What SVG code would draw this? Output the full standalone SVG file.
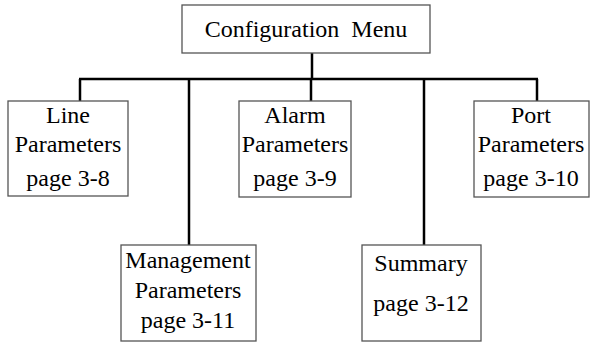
<svg xmlns="http://www.w3.org/2000/svg" width="591" height="344" viewBox="0 0 591 344">
<style>
.box{fill:#fff;stroke:#555;stroke-width:1.3}
.conn{stroke:#000;stroke-width:2.5;fill:none}
text{font-family:"Liberation Serif","Times New Roman",serif;font-size:24px;fill:#000;text-anchor:middle}
</style>
<rect width="591" height="344" fill="#fff"/>
<g id="connectors">
<line class="conn" x1="312" y1="53" x2="312" y2="79"/>
<line class="conn" x1="79" y1="79" x2="538" y2="79"/>
<line class="conn" x1="80" y1="79" x2="80" y2="101"/>
<line class="conn" x1="189" y1="79" x2="189" y2="245"/>
<line class="conn" x1="311" y1="79" x2="311" y2="101"/>
<line class="conn" x1="424" y1="79" x2="424" y2="245"/>
<line class="conn" x1="537" y1="79" x2="537" y2="101"/>
</g>
<g id="config">
<rect class="box" x="182" y="5" width="248" height="48"/>
<text x="306" y="37" xml:space="preserve">Configuration  Menu</text>
</g>
<g id="line">
<rect class="box" x="8" y="101" width="120" height="95"/>
<text x="68" y="123">Line</text>
<text x="68" y="152">Parameters</text>
<text x="68" y="186">page 3-8</text>
</g>
<g id="alarm">
<rect class="box" x="239" y="101" width="112" height="96"/>
<text x="295" y="123">Alarm</text>
<text x="295" y="152">Parameters</text>
<text x="295" y="186">page 3-9</text>
</g>
<g id="port">
<rect class="box" x="474" y="101" width="115" height="96"/>
<text x="531" y="123">Port</text>
<text x="531" y="152">Parameters</text>
<text x="531" y="186">page 3-10</text>
</g>
<g id="management">
<rect class="box" x="121" y="245" width="135" height="96"/>
<text x="188" y="268">Management</text>
<text x="188" y="298">Parameters</text>
<text x="188" y="328">page 3-11</text>
</g>
<g id="summary">
<rect class="box" x="362" y="245" width="119" height="96"/>
<text x="421" y="271">Summary</text>
<text x="421" y="311">page 3-12</text>
</g>
</svg>
